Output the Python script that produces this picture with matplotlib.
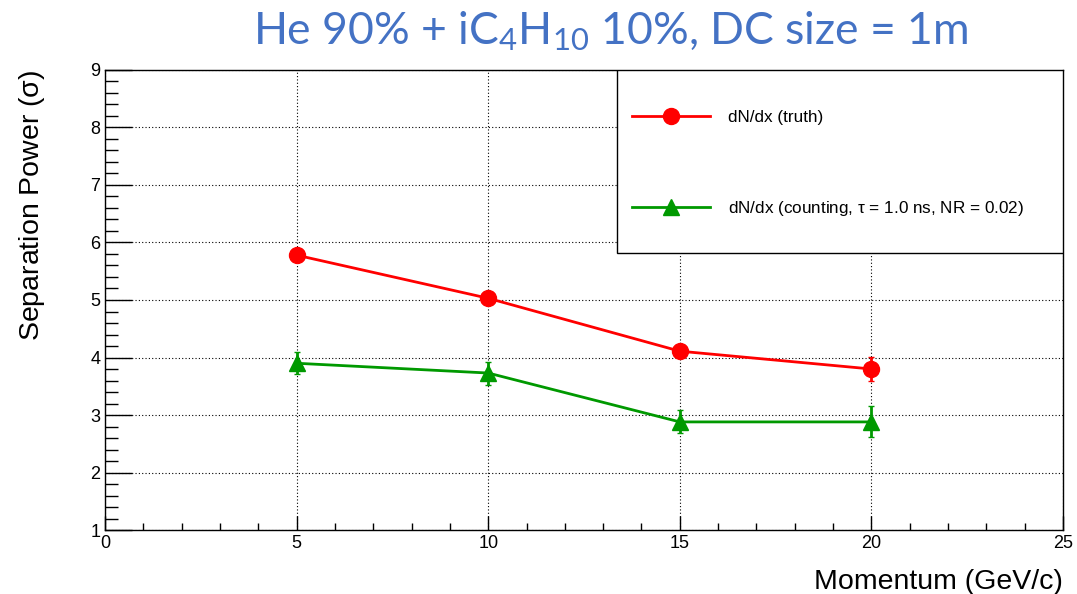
import matplotlib.pyplot as plt
from matplotlib.lines import Line2D
from matplotlib.patches import Rectangle
from matplotlib.ticker import MultipleLocator

# momentum points (GeV/c)
momentum = [5, 10, 15, 20]

# dN/dx truth
sep_truth = [5.78, 5.03, 4.11, 3.80]
err_truth = [0.08, 0.08, 0.10, 0.21]

# dN/dx counting, tau = 1.0 ns, NR = 0.02
sep_count = [3.90, 3.73, 2.88, 2.88]
err_count = [0.19, 0.20, 0.20, 0.27]

labels = ['dN/dx (truth)',
          r'dN/dx (counting, $\mathregular{\tau}$ = 1.0 ns, NR = 0.02)']
red, green = '#ff0000', '#009900'

plt.rcParams['font.family'] = ['Liberation Sans', 'DejaVu Sans']

fig = plt.figure(figsize=(10.77, 5.94), dpi=100)
ax = fig.add_axes([0.0975, 0.1077, 0.8895, 0.7745])

ax.errorbar(momentum, sep_truth, yerr=err_truth, color=red, lw=2,
            marker='o', ms=11.5, capsize=2.5, elinewidth=2, zorder=3)
ax.errorbar(momentum, sep_count, yerr=err_count, color=green, lw=2,
            marker='^', ms=11.5, capsize=2.5, elinewidth=2, zorder=3)

ax.set_xlim(0, 25)
ax.set_ylim(1, 9)
ax.xaxis.set_major_locator(MultipleLocator(5))
ax.xaxis.set_minor_locator(MultipleLocator(1))
ax.yaxis.set_major_locator(MultipleLocator(1))
ax.yaxis.set_minor_locator(MultipleLocator(0.2))
ax.tick_params(which='both', direction='in', top=False, right=False,
               labelsize=13, width=1)
ax.tick_params(axis='y', which='major', length=19.5)
ax.tick_params(axis='y', which='minor', length=9.5)
ax.tick_params(axis='x', which='major', length=10)
ax.tick_params(axis='x', which='minor', length=5)
ax.grid(True, which='major', color='black', ls=(0, (1, 2)), lw=0.8)
for s in ax.spines.values():
    s.set_linewidth(1)

ax.set_ylabel(r'Separation Power ($\mathregular{\sigma}$)', fontsize=20.5,
              loc='top', labelpad=31)
ax.set_xlabel('Momentum (GeV/c)', fontsize=20.5, loc='right', labelpad=12)

# legend box
ax.add_patch(Rectangle((0.534, 0.602), 0.466, 0.398, transform=ax.transAxes,
                       facecolor='white', edgecolor='black', lw=1, zorder=4))
handles = [Line2D([], [], color=red, lw=2, marker='o', ms=11.5),
           Line2D([], [], color=green, lw=2, marker='^', ms=11.5)]
leg = ax.legend(handles, labels, loc='center left', bbox_to_anchor=(0.55, 0.796),
                frameon=False, fontsize=12.3, handlelength=4.6, labelspacing=4.3,
                handletextpad=1.0, borderaxespad=0, borderpad=0)
leg.set_zorder(5)

fig.text(0.567, 0.948, r'He 90% + iC$\mathregular{_4}$H$\mathregular{_{10}}$ 10%, DC size = 1m',
         ha='center', va='center', fontsize=32, color='#4472c4',
         family=['Lato', 'DejaVu Sans'])

fig.savefig('out.png', dpi=100)
